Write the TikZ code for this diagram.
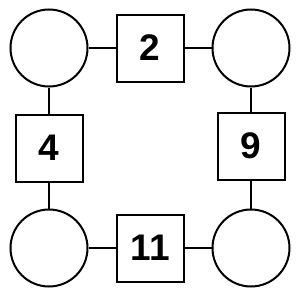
\documentclass[tikz,border=0pt]{standalone}
\usepackage{fontspec}
\setmainfont{Liberation Sans}
\usepackage{tikz}
\usetikzlibrary{positioning}

\begin{document}
\begin{tikzpicture}[
  x=1pt,y=-1pt,
  line width=2pt,
  font=\fontsize{37}{37}\selectfont\bfseries,
  ring/.style={draw, circle, minimum size=77pt, inner sep=0pt},
  numbox/.style={draw, minimum size=67pt, inner sep=0pt}
]
\useasboundingbox (0,0) rectangle (300,300);
% Corner circles.
\node[ring] (tl) at (49,48) {};
\node[ring] (tr) at (251,48) {};
\node[ring] (bl) at (49,248) {};
\node[ring] (br) at (251,248) {};

% Numbered boxes on the sides.
\node[numbox] (top) at (150,48) {2};
\node[numbox] (lft) at (49,148) {4};
\node[numbox] (rgt) at (251,146) {9};
\node[numbox] (bot) at (150.5,248) {11};

\draw (tl) -- (top);
\draw (top) -- (tr);
\draw (tl) -- (lft);
\draw (lft) -- (bl);
\draw (tr) -- (rgt);
\draw (rgt) -- (br);
\draw (bl) -- (bot);
\draw (bot) -- (br);
\end{tikzpicture}
\end{document}
